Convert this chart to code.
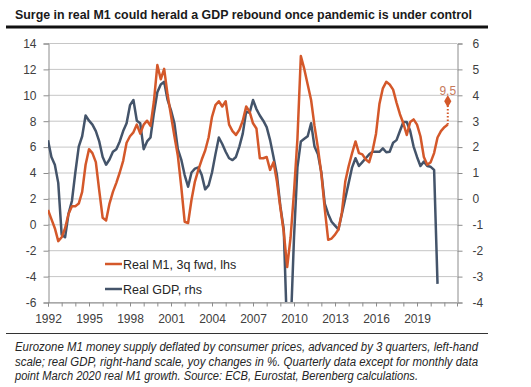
<!DOCTYPE html>
<html>
<head>
<meta charset="utf-8">
<script src="https://cdn.jsdelivr.net/npm/d3@7"></script>
<style>
  body { margin: 0; background: #fff; }
  svg { display: block; font-family: 'Liberation Sans', Arial, sans-serif; }
</style>
</head>
<body>
<div id="chart"></div>
<script>
// year labels, one every 12 quarters starting at the first quarter
var years = ['1992', '1995', '1998', '2001', '2004', '2007', '2010', '2013', '2016', '2019'];

// real M1 yoy %, advanced by 3 quarters (lhs), quarterly
var m1 = [1.1, 0.4, -0.3, -1.3, -1.0, -0.3, 0.8, 1.4, 1.4, 1.6,
  2.5, 4.6, 5.8, 5.5, 4.8, 2.6, 0.5, 0.3, 1.6, 2.5,
  3.2, 4.0, 4.9, 6.3, 6.8, 7.1, 7.7, 7.0, 7.7, 8.0,
  7.6, 9.5, 12.3, 11.2, 12.0, 10.0, 8.4, 6.8, 5.3, 2.9,
  0.2, 0.1, 1.9, 3.3, 4.2, 5.0, 5.7, 6.7, 8.3, 9.2,
  9.5, 9.1, 9.5, 7.7, 7.2, 6.9, 7.3, 8.0, 9.1, 8.7,
  7.8, 7.4, 5.1, 5.1, 5.2, 4.2, 4.8, 3.3, 1.3, -0.6,
  -3.3, -1.0, 2.5, 6.6, 13.0, 12.0, 10.8, 9.6, 7.6, 5.9,
  3.9, 1.2, -1.2, -1.1, -0.8, -0.4, 0.9, 3.3, 4.5, 5.5,
  6.4, 5.5, 5.4, 5.0, 4.8, 5.7, 7.0, 9.3, 10.5, 11.0,
  10.8, 10.4, 9.4, 8.5, 7.8, 6.9, 7.9, 8.1, 7.7, 6.8,
  5.2, 4.6, 4.8, 5.5, 6.7, 7.2, 7.5, 7.7];

// monthly March 2020 real M1 point
var m1_march = 9.5;

// real GDP yoy % (rhs), quarterly
var gdp = [2.25, 1.6, 1.3, 0.6, -1.4, -1.5, -0.6, -0.1, 1.0, 2.0,
  2.4, 3.2, 3.0, 2.85, 2.6, 2.2, 1.6, 1.3, 1.5, 1.8,
  1.9, 2.2, 2.6, 2.9, 3.6, 3.8, 3.0, 2.9, 1.9, 2.2,
  2.35, 3.3, 4.1, 4.4, 4.5, 3.8, 3.4, 2.9, 1.9, 1.5,
  0.9, 0.45, 1.0, 1.15, 1.2, 0.9, 0.35, 0.5, 1.0, 1.7,
  2.35, 2.1, 1.8, 1.55, 1.48, 1.6, 2.0, 2.5, 3.35, 3.3,
  3.8, 3.45, 3.2, 3.0, 2.75, 2.25, 1.6, 0.9, -0.3, -1.2,
  -5.3, -5.1, -1.5, 1.2, 2.2, 2.3, 2.4, 2.9, 2.0, 1.7,
  1.0, -0.2, -0.6, -0.9, -1.05, -1.2, -0.6, 0.0, 0.6, 1.2,
  1.55, 1.25, 1.4, 1.55, 1.7, 1.8, 1.8, 1.8, 1.93, 1.78,
  1.8, 2.15, 2.25, 2.6, 2.95, 2.95, 2.6, 2.0, 1.6, 1.25,
  1.42, 1.25, 1.22, 1.1, -3.3];

var left_ticks = [14, 12, 10, 8, 6, 4, 2, 0, -2, -4, -6];
var right_ticks = [6, 5, 4, 3, 2, 1, 0, -1, -2, -3, -4];

var title = 'Surge in real M1 could herald a GDP rebound once pandemic is under control';
var notes = [
  'Eurozone M1 money supply deflated by consumer prices, advanced by 3 quarters, left-hand',
  'scale; real GDP, right-hand scale, yoy changes in %. Quarterly data except for monthly data',
  'point March 2020 real M1 growth. Source: ECB, Eurostat, Berenberg calculations.'
];

var orange = '#d4582a';
var blue = '#44546a';
var grid = '#c6c6c6';

// Create SVG Element
var chart_width = 531;
var chart_height = 387;
var svg = d3
  .select('#chart')
  .append('svg')
  .attr('width', chart_width)
  .attr('height', chart_height);

var plot = { left: 48, right: 457, top: 43, bottom: 302 };

//quarter index -> x; one year label every 12 quarters
var x_scale = d3
  .scaleLinear()
  .domain([0, 119.7])
  .range([plot.left, plot.right]);
var y_left = d3
  .scaleLinear()
  .domain([-6, 14])
  .range([plot.bottom, plot.top]);
var y_right = d3
  .scaleLinear()
  .domain([-4, 6])
  .range([plot.bottom, plot.top]);

//title and rule under it
svg
  .append('text')
  .attr('x', 15)
  .attr('y', 19)
  .attr('font-size', 13)
  .attr('font-weight', 'bold')
  .attr('fill', '#1a1a1a')
  .attr('textLength', 457)
  .attr('lengthAdjust', 'spacingAndGlyphs')
  .text(title);
svg
  .append('line')
  .attr('x1', 6)
  .attr('x2', 488)
  .attr('y1', 27)
  .attr('y2', 27)
  .attr('stroke', '#111')
  .attr('stroke-width', 3);

//gridlines from the left scale
svg
  .append('g')
  .selectAll('line')
  .data(left_ticks)
  .enter()
  .append('line')
  .attr('x1', plot.left)
  .attr('x2', plot.right)
  .attr('y1', function(d) {
    return y_left(d) + 0.5;
  })
  .attr('y2', function(d) {
    return y_left(d) + 0.5;
  })
  .attr('stroke', grid)
  .attr('stroke-width', 1);

//plain hyphen for negatives, like the source
var plain = function(d) {
  return String(d);
};

//axes
var left_axis = d3
  .axisLeft(y_left)
  .tickValues(left_ticks)
  .tickSize(5)
  .tickPadding(7)
  .tickFormat(plain);
var right_axis = d3
  .axisRight(y_right)
  .tickValues(right_ticks)
  .tickSize(5)
  .tickPadding(10)
  .tickFormat(plain);
var bottom_axis = d3
  .axisBottom(x_scale)
  .tickValues(d3.range(0, 120, 4))
  .tickSize(4)
  .tickPadding(8)
  .tickFormat(function(d) {
    return d % 12 === 0 ? years[d / 12] : '';
  });

var gl = svg
  .append('g')
  .attr('transform', 'translate(' + (plot.left + 0.5) + ',0.5)')
  .call(left_axis);
var gr = svg
  .append('g')
  .attr('transform', 'translate(' + (plot.right + 0.5) + ',0.5)')
  .call(right_axis);
var gb = svg
  .append('g')
  .attr('transform', 'translate(0,' + (plot.bottom + 0.5) + ')')
  .call(bottom_axis);

[gl, gr, gb].forEach(function(g) {
  g.selectAll('.domain').attr('stroke', '#8c8c8c');
  g.selectAll('.tick line').attr('stroke', '#8c8c8c');
  g.selectAll('text')
    .attr('font-size', 12)
    .attr('fill', '#404040')
    .attr('font-family', "'Liberation Sans', Arial, sans-serif");
});
gr.selectAll('text').attr('text-anchor', 'start');

//clip lines to the plot area
svg
  .append('clipPath')
  .attr('id', 'clip')
  .append('rect')
  .attr('x', plot.left)
  .attr('y', plot.top - 5)
  .attr('width', plot.right - plot.left + 10)
  .attr('height', plot.bottom - plot.top + 5);

var m1_line = d3
  .line()
  .x(function(d, i) {
    return x_scale(i);
  })
  .y(function(d) {
    return y_left(d);
  });
var gdp_line = d3
  .line()
  .x(function(d, i) {
    return x_scale(i);
  })
  .y(function(d) {
    return y_right(d);
  });

var lines = svg.append('g').attr('clip-path', 'url(#clip)');
lines
  .append('path')
  .datum(gdp)
  .attr('d', gdp_line)
  .attr('fill', 'none')
  .attr('stroke', blue)
  .attr('stroke-width', 2.5)
  .attr('stroke-linejoin', 'round');
lines
  .append('path')
  .datum(m1)
  .attr('d', m1_line)
  .attr('fill', 'none')
  .attr('stroke', orange)
  .attr('stroke-width', 2.5)
  .attr('stroke-linejoin', 'round');

//March 2020 monthly point, dotted up from the last quarter
var last = m1.length - 1;
svg
  .append('line')
  .attr('x1', x_scale(last))
  .attr('x2', x_scale(last))
  .attr('y1', y_left(m1[last]))
  .attr('y2', y_left(m1_march))
  .attr('stroke', orange)
  .attr('stroke-width', 2)
  .attr('stroke-dasharray', '1.5,2');
svg
  .append('path')
  .attr('d', d3.symbol().type(d3.symbolDiamond).size(45))
  .attr('transform', 'translate(' + x_scale(last) + ',' + y_left(m1_march) + ')')
  .attr('fill', orange);
svg
  .append('text')
  .attr('x', x_scale(last))
  .attr('y', y_left(m1_march) - 6)
  .attr('text-anchor', 'middle')
  .attr('font-size', 12)
  .attr('fill', '#c77a5c')
  .text(m1_march);

//legend
var legend = [
  { name: 'Real M1, 3q fwd, lhs', color: orange },
  { name: 'Real GDP, rhs', color: blue }
];
var lg = svg
  .append('g')
  .selectAll('g')
  .data(legend)
  .enter()
  .append('g')
  .attr('transform', function(d, i) {
    return 'translate(105,' + (264 + i * 25) + ')';
  });
lg.append('line')
  .attr('x1', 0)
  .attr('x2', 17)
  .attr('stroke', function(d) {
    return d.color;
  })
  .attr('stroke-width', 2.5);
lg.append('text')
  .attr('x', 18)
  .attr('y', 4.5)
  .attr('font-size', 12.5)
  .attr('fill', '#262626')
  .text(function(d) {
    return d.name;
  });

//footer
svg
  .append('line')
  .attr('x1', 6)
  .attr('x2', 488)
  .attr('y1', 333.5)
  .attr('y2', 333.5)
  .attr('stroke', '#333')
  .attr('stroke-width', 1);
svg
  .append('g')
  .selectAll('text')
  .data(notes)
  .enter()
  .append('text')
  .attr('x', 15)
  .attr('y', function(d, i) {
    return 351 + i * 14.5;
  })
  .attr('font-size', 12.5)
  .attr('font-style', 'italic')
  .attr('fill', '#262626')
  .attr('textLength', function(d, i) {
    return [463, 463, 403][i];
  })
  .attr('lengthAdjust', 'spacingAndGlyphs')
  .text(function(d) {
    return d;
  });
</script>
</body>
</html>
